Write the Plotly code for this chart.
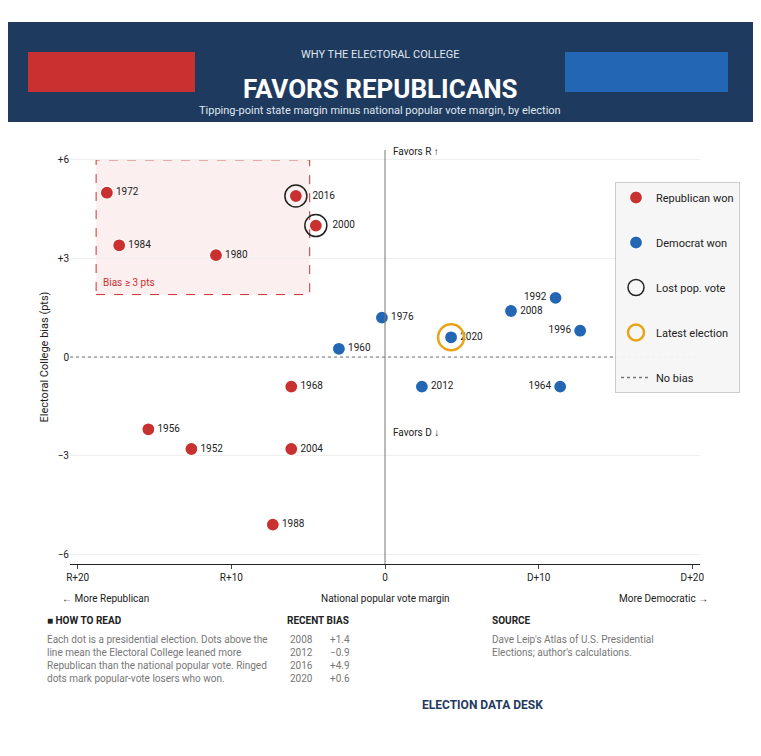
import plotly.graph_objects as go

# ---------------- data ----------------
years = ["1972", "1984", "1956", "1952", "1980", "1988", "1968", "2004", "2016",
         "2000", "1960", "1976", "2012", "2020", "2008", "1992", "1996", "1964"]
pop_margin = [-18.1, -17.3, -15.4, -12.6, -11.0, -7.3, -6.1, -6.1, -5.8,
              -4.5, -3.0, -0.2, 2.4, 4.3, 8.2, 11.1, 12.7, 11.4]
ec_bias = [5.0, 3.4, -2.2, -2.8, 3.1, -5.1, -0.9, -2.8, 4.9,
           4.0, 0.25, 1.2, -0.9, 0.6, 1.4, 1.8, 0.8, -0.9]
winner = ["R", "R", "R", "R", "R", "R", "R", "R", "R",
          "R", "D", "D", "D", "D", "D", "D", "D", "D"]
split_years = ["2016", "2000"]

x_ticks = [-20, -10, 0, 10, 20]
x_tick_labels = ["R+20", "R+10", "0", "D+10", "D+20"]
y_ticks = [-6, -3, 0, 3, 6]
y_tick_labels = ["−6", "−3", "0", "+3", "+6"]

table_years = ["2008", "2012", "2016", "2020"]
table_bias = ["+1.4", "−0.9", "+4.9", "+0.6"]

# ---------------- layout geometry (pixels) ----------------
W, H = 761, 756
L, R_, T, B = 70, 61, 150, 192
PW, PH = W - L - R_, H - T - B


def px(xp):
    return (xp - L) / PW


def py(yp):
    return (H - B - yp) / PH


RED = "#c8312f"
BLUE = "#2366b3"
INK = "#222222"
GREY = "#777777"

fig = go.Figure()

for side, name, col in [("R", "Republican won", RED), ("D", "Democrat won", BLUE)]:
    xs = [x for x, w in zip(pop_margin, winner) if w == side]
    ys = [y for y, w in zip(ec_bias, winner) if w == side]
    ts = [t for t, w in zip(years, winner) if w == side]
    labels = ["   " + t if t in split_years else t for t in ts]
    pos = ["middle left" if x > 10 else "middle right" for x in xs]
    fig.add_trace(go.Scatter(
        x=xs, y=ys, mode="markers+text", text=labels,
        textposition=pos, textfont=dict(size=10, color=INK, family="Roboto"),
        marker=dict(size=13, color=col, line=dict(color="white", width=1.2)),
        name=name, legendgroup=name, cliponaxis=False,
    ))

split_idx = [years.index(y) for y in split_years]
fig.add_trace(go.Scatter(
    x=[pop_margin[i] for i in split_idx], y=[ec_bias[i] for i in split_idx],
    mode="markers", marker=dict(size=22, color="rgba(0,0,0,0)", line=dict(color=INK, width=1.5)),
    name="Lost pop. vote", legendgroup="split",
))
i20 = years.index("2020")
fig.add_trace(go.Scatter(
    x=[pop_margin[i20]], y=[ec_bias[i20]], mode="markers",
    marker=dict(size=26, color="rgba(0,0,0,0)", line=dict(color="#e8a317", width=2.5)),
    name="Latest election", legendgroup="recent",
))
fig.add_trace(go.Scatter(
    x=[None], y=[None], mode="lines", line=dict(color=GREY, dash="dot", width=1.5),
    name="No bias", legendgroup="tie",
))

fig.add_hline(y=0, line=dict(color=GREY, dash="dot", width=1.2))
fig.add_vline(x=0, line=dict(color=GREY, width=1))

# shaded inset area
fig.add_shape(type="rect", xref="x", yref="y", x0=-18.8, x1=-4.9, y0=1.9, y1=6.0,
              fillcolor="rgba(200,49,47,0.08)", line=dict(color=RED, width=1, dash="dash"), layer="below")
fig.add_annotation(x=-18.5, y=2.05, xref="x", yref="y", text="Bias ≥ 3 pts", showarrow=False,
                   xanchor="left", yanchor="bottom", font=dict(size=10, color=RED, family="Roboto"))
fig.add_annotation(x=0.4, y=6.25, xref="x", yref="y", text="Favors R ↑", showarrow=False,
                   xanchor="left", font=dict(size=10, color=INK, family="Roboto"))
fig.add_annotation(x=2.0, y=-2.3, xref="x", yref="y", text="Favors D ↓", showarrow=False,
                   font=dict(size=10, color=INK, family="Roboto"))

# banner
fig.add_shape(type="rect", xref="paper", yref="paper", x0=px(8), x1=px(753), y0=py(122), y1=py(22),
              fillcolor="#1f3a5f", line=dict(width=0), layer="below")
fig.add_shape(type="rect", xref="paper", yref="paper", x0=px(28), x1=px(195), y0=py(92), y1=py(52),
              fillcolor=RED, line=dict(width=0))
fig.add_shape(type="rect", xref="paper", yref="paper", x0=px(565), x1=px(728), y0=py(92), y1=py(52),
              fillcolor=BLUE, line=dict(width=0))
fig.add_annotation(x=px(380), y=py(46), xref="paper", yref="paper", showarrow=False,
                   text="WHY THE ELECTORAL COLLEGE", font=dict(size=11, color="#dfe6ee", family="Roboto"))
fig.add_annotation(x=px(380), y=py(72), xref="paper", yref="paper", showarrow=False,
                   text="<b>FAVORS REPUBLICANS</b>", font=dict(size=26, color="white", family="Roboto"))
fig.add_annotation(x=px(380), y=py(102), xref="paper", yref="paper", showarrow=False,
                   text="Tipping-point state margin minus national popular vote margin, by election",
                   font=dict(size=11, color="#dfe6ee", family="Roboto"))

# axis end labels
for xp, txt, anc in [(60, "← More Republican", "left"), (385, "National popular vote margin", "center"),
                     (710, "More Democratic →", "right")]:
    fig.add_annotation(x=px(xp), y=py(598), xref="paper", yref="paper", showarrow=False,
                       text=txt, xanchor=anc, yanchor="middle", font=dict(size=10, color=INK, family="Roboto"))

# footer columns
fig.add_annotation(x=px(45), y=py(620), xref="paper", yref="paper", showarrow=False, xanchor="left",
                   yanchor="middle", text="<b>■ HOW TO READ</b>", font=dict(size=10, color=INK, family="Roboto"))
fig.add_annotation(x=px(45), y=py(632), xref="paper", yref="paper", showarrow=False, xanchor="left",
                   yanchor="top", align="left",
                   text="Each dot is a presidential election. Dots above the<br>line mean the Electoral College leaned more<br>Republican than the national popular vote. Ringed<br>dots mark popular-vote losers who won.",
                   font=dict(size=10, color=GREY, family="Roboto"))
fig.add_annotation(x=px(285), y=py(620), xref="paper", yref="paper", showarrow=False, xanchor="left",
                   yanchor="middle", text="<b>RECENT BIAS</b>", font=dict(size=10, color=INK, family="Roboto"))
fig.add_annotation(x=px(288), y=py(632), xref="paper", yref="paper", showarrow=False, xanchor="left",
                   yanchor="top", align="left", text="<br>".join(table_years),
                   font=dict(size=10, color=GREY, family="Roboto"))
fig.add_annotation(x=px(352), y=py(632), xref="paper", yref="paper", showarrow=False, xanchor="right",
                   yanchor="top", align="right", text="<br>".join(table_bias),
                   font=dict(size=10, color=GREY, family="Roboto"))
fig.add_annotation(x=px(490), y=py(620), xref="paper", yref="paper", showarrow=False, xanchor="left",
                   yanchor="middle", text="<b>SOURCE</b>", font=dict(size=10, color=INK, family="Roboto"))
fig.add_annotation(x=px(490), y=py(632), xref="paper", yref="paper", showarrow=False, xanchor="left",
                   yanchor="top", align="left",
                   text="Dave Leip's Atlas of U.S. Presidential<br>Elections; author's calculations.",
                   font=dict(size=10, color=GREY, family="Roboto"))
fig.add_annotation(x=px(545), y=py(705), xref="paper", yref="paper", showarrow=False,
                   yanchor="middle", text="<b>ELECTION DATA DESK</b>", font=dict(size=12, color="#1f3a5f", family="Roboto"))

fig.update_layout(
    width=W, height=H,
    margin=dict(l=L, r=R_, t=T, b=B, autoexpand=False),
    paper_bgcolor="white", plot_bgcolor="white",
    font=dict(family="Roboto", color=INK),
    showlegend=True,
    legend=dict(xref="container", yref="container", x=615 / W, y=1 - 182 / H,
                xanchor="left", yanchor="top",
                bgcolor="rgba(245,245,245,0.95)", bordercolor="#cccccc", borderwidth=1,
                font=dict(size=11), tracegroupgap=26),
    xaxis=dict(range=[-20.5, 20.5], tickvals=x_ticks, ticktext=x_tick_labels,
               showgrid=False, zeroline=False, showline=True, linecolor=INK, ticks="outside",
               ticklen=4, tickfont=dict(size=10)),
    yaxis=dict(range=[-6.3, 6.3], tickvals=y_ticks, ticktext=y_tick_labels,
               showgrid=True, gridcolor="#eeeeee", zeroline=False, showline=False,
               tickfont=dict(size=10),
               title=dict(text="Electoral College bias (pts)", font=dict(size=11), standoff=6)),
)

fig.write_html("out.html")
